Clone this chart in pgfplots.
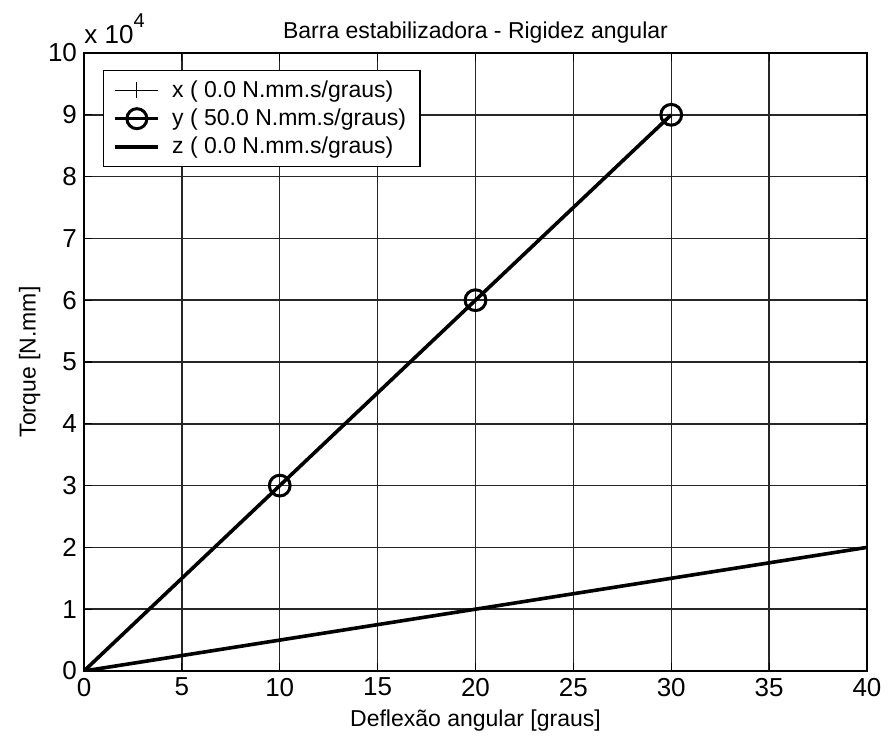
\documentclass[border=0pt]{standalone}
\usepackage{pgfplots}
\pgfplotsset{compat=1.18}
\usepackage{fontspec}
\setmainfont{Liberation Sans}

\begin{document}
\begin{tikzpicture}
\begin{axis}[
  name=ax,
  scale only axis,
  width=391.5pt, height=309pt,
  xmin=0, xmax=40, ymin=0, ymax=100000,
  xtick={0,5,...,40},
  xticklabels={0,5,10,15,20,25,30,35,40},
  ytick={0,10000,20000,30000,40000,50000,60000,70000,80000,90000,100000},
  yticklabels={0,1,2,3,4,5,6,7,8,9,10},
  scaled y ticks=false,
  clip mode=individual,
  grid=major,
  major grid style={black!85, line width=0.75pt},
  axis line style={black, line width=0.8pt},
  tick style={black, line width=0.6pt},
  tick align=inside,
  major tick length=4pt,
  ticklabel style={font=\fontsize{13}{15}\selectfont},
  title={Barra estabilizadora - Rigidez angular},
  title style={font=\fontsize{11.5}{14}\selectfont, yshift=-4.5pt},
  xlabel={Deflexão angular [graus]},
  ylabel={Torque [N.mm]},
  ylabel style={yshift=-3pt},
  label style={font=\fontsize{11.5}{14}\selectfont},
  legend style={at={(rel axis cs:0,1)}, anchor=north west, xshift=9.5pt, yshift=-8.5pt,
    draw=black, line width=0.6pt, font=\fontsize{11.5}{14}\selectfont,
    row sep=0.3pt, inner xsep=5pt, inner ysep=3pt,
    /tikz/every odd column/.append style={column sep=4pt}},
  legend cell align=left,
]
\addplot[black, line width=0.5pt,
  legend image code/.code={\draw[black, line width=0.5pt] (0pt,0pt) -- (21.5pt,0pt);
    \draw[black, line width=0.5pt] (10.75pt,-4pt) -- (10.75pt,4pt);}]
  coordinates {(0,0) (40,0)};
\addlegendentry{x ( 0.0 N.mm.s/graus)}
\addplot[black, line width=1.8pt, mark=o, mark indices={2,3,4},
  mark options={line width=1.5pt, mark size=5.2pt},
  legend image code/.code={\draw[black, line width=1.8pt] (0pt,0pt) -- (21.5pt,0pt);
    \draw[black, line width=1.5pt] (10.75pt,0pt) circle (5pt);}]
  coordinates {(0,0) (10,30000) (20,60000) (30,90000)};
\addlegendentry{y ( 50.0 N.mm.s/graus)}
\addplot[black, line width=1.8pt,
  legend image code/.code={\draw[black, line width=1.8pt] (0pt,0pt) -- (21.5pt,0pt);}]
  coordinates {(0,0) (40,20000)};
\addlegendentry{z ( 0.0 N.mm.s/graus)}
\node[anchor=base west, inner sep=0pt, font=\fontsize{13}{15}\selectfont]
  at (rel axis cs:0,1) [yshift=4.5pt]
  {x 10\raisebox{0.62em}{\fontsize{10}{12}\selectfont 4}};
\end{axis}
\pgfresetboundingbox
\path (ax.south west) ++(-42pt,-35.5pt) coordinate (bl);
\path (ax.north east) ++(11pt,26.5pt) coordinate (tr);
\path[use as bounding box] (bl) rectangle (tr);
\end{tikzpicture}
\end{document}
